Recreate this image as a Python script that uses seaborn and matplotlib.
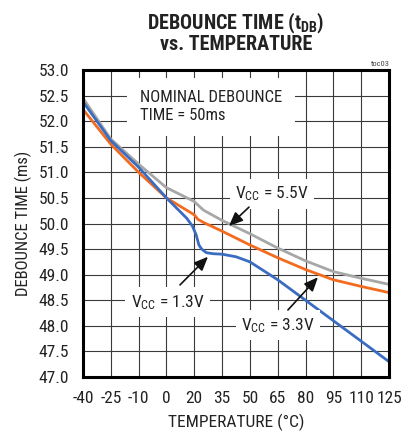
import matplotlib
matplotlib.use("Agg")
import matplotlib.pyplot as plt
import matplotlib.font_manager as fm
import seaborn as sns
import pandas as pd

# ---- data ----
temp_55 = [-40, -25, -10, 5, 20, 22, 25, 35, 50, 65, 80, 95, 110, 125]
time_55 = [52.45, 51.65, 51.16, 50.70, 50.43, 50.36, 50.26, 50.06, 49.80, 49.52, 49.27, 49.06, 48.93, 48.81]

temp_33 = [-40, -25, -10, 5, 20, 22, 25, 35, 50, 65, 80, 95, 110, 125]
time_33 = [52.23, 51.55, 51.00, 50.50, 50.17, 50.08, 50.02, 49.85, 49.58, 49.33, 49.10, 48.90, 48.77, 48.65]

temp_13 = [-40, -25, -10, 5, 16, 19, 21, 22.5, 24, 26.5, 30, 35, 42.5, 50, 65, 80, 95, 110, 125]
time_13 = [52.38, 51.62, 51.10, 50.50, 50.10, 49.95, 49.78, 49.58, 49.50, 49.43, 49.41, 49.40, 49.35, 49.25, 48.90, 48.50, 48.10, 47.70, 47.30]

xtick_pos = [-40, -25, -10, 5, 20, 35, 50, 65, 80, 95, 110, 125]
xtick_labels = ["-40", "-25", "-10", "0", "20", "35", "50", "65", "80", "95", "110", "125"]
ytick_vals = [47.0, 47.5, 48.0, 48.5, 49.0, 49.5, 50.0, 50.5, 51.0, 51.5, 52.0, 52.5, 53.0]

series_names = ["VCC = 5.5V", "VCC = 3.3V", "VCC = 1.3V"]
colors = ["#a7a7a7", "#f26b1f", "#3a6cc2"]

# ---- style ----
sns.set_theme(style="white")
names = {f.name for f in fm.fontManager.ttflist}
fam = "Liberation Sans"
for cand in ["Roboto Condensed", "Archivo Narrow", "PT Sans Narrow", "Liberation Sans Narrow"]:
    if cand in names:
        fam = cand
        break
narrow = fam != "Liberation Sans"
FS = 12.5 if narrow else 10.5
LFS = 12 if narrow else 10.5
NFS = 12 if narrow else 10
TFS = 14.5 if narrow else 12

plt.rcParams["font.family"] = [fam, "DejaVu Sans"]
plt.rcParams["mathtext.fontset"] = "custom"
plt.rcParams["mathtext.rm"] = fam
plt.rcParams["mathtext.it"] = fam
plt.rcParams["mathtext.bf"] = fam + ":bold"

df = pd.concat([
    pd.DataFrame({"T": temp_55, "t": time_55, "s": series_names[0]}),
    pd.DataFrame({"T": temp_33, "t": time_33, "s": series_names[1]}),
    pd.DataFrame({"T": temp_13, "t": time_13, "s": series_names[2]}),
])

fig = plt.figure(figsize=(4.10, 4.38), dpi=100)
ax = fig.add_axes([83 / 410, 1 - 377 / 438, 306 / 410, 307 / 438])

for name, c in zip(series_names, colors):
    sns.lineplot(data=df[df.s == name], x="T", y="t", color=c, lw=2.0,
                 ax=ax, sort=True, estimator=None, legend=False, zorder=3)

ax.set_xlim(-40, 125)
ax.set_ylim(47, 53)
ax.set_xticks(xtick_pos)
ax.set_xticklabels(xtick_labels)
ax.set_yticks(ytick_vals)
ax.set_yticklabels([f"{v:.1f}" for v in ytick_vals])
ax.tick_params(axis="both", length=0, labelsize=FS, colors="#222222", pad=10)
ax.grid(True, color="#3a3a3a", lw=0.8, zorder=1)
for sp in ax.spines.values():
    sp.set_visible(True)
    sp.set_color("black")
    sp.set_linewidth(2.2)
    sp.set_zorder(5)

ax.set_xlabel("TEMPERATURE (°C)", fontsize=FS, color="#222222", labelpad=6)
ax.set_ylabel("DEBOUNCE TIME (ms)", fontsize=LFS, color="#222222", labelpad=5)

# title
fig.text(236 / 410, 1 - 29.5 / 438, r"DEBOUNCE TIME (t$_{\mathbf{DB}}$)", ha="center",
         va="baseline", fontsize=TFS, fontweight="bold", color="#222222")
fig.text(236 / 410, 1 - 50 / 438, "vs. TEMPERATURE", ha="center", va="baseline",
         fontsize=TFS, fontweight="bold", color="#222222")
fig.text(390 / 410, 1 - 66 / 438, "toc03", ha="right", va="baseline", fontsize=6, color="#444444")

box = dict(facecolor="white", edgecolor="none", pad=4)
ax.text(-9.3, 52.28, "NOMINAL DEBOUNCE\nTIME = 50ms", ha="left", va="center", fontsize=NFS,
        color="#222222", linespacing=1.25, zorder=4,
        bbox=dict(facecolor="white", edgecolor="none", pad=9))

ax.text(61.9, 50.49, r"V$_{\mathrm{CC}}$ = 5.5V", ha="center", va="baseline", fontsize=FS,
        color="#222222", zorder=4, bbox=box)
ax.text(5.6, 48.37, r"V$_{\mathrm{CC}}$ = 1.3V", ha="center", va="baseline", fontsize=FS,
        color="#222222", zorder=4, bbox=box)
ax.text(65.1, 47.92, r"V$_{\mathrm{CC}}$ = 3.3V", ha="center", va="baseline", fontsize=FS,
        color="#222222", zorder=4, bbox=box)

arrow = dict(arrowstyle="-|>,head_length=0.7,head_width=0.3", color="#111111", lw=1.2,
             shrinkA=0, shrinkB=0)
ax.annotate("", xy=(38.7, 49.95), xytext=(49.5, 50.32), arrowprops=arrow, zorder=6)
ax.annotate("", xy=(27.4, 49.35), xytext=(12.3, 48.80), arrowprops=arrow, zorder=6)
ax.annotate("", xy=(86.7, 48.95), xytext=(70.5, 48.31), arrowprops=arrow, zorder=6)

fig.savefig("out.png", dpi=100)
